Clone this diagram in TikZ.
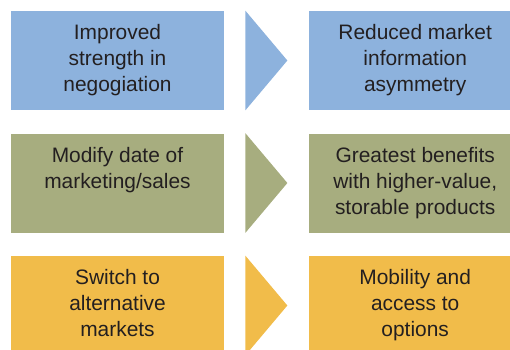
\documentclass[tikz,border=0pt]{standalone}
\usepackage{fontspec}
\setmainfont{Liberation Sans}
\definecolor{rowblue}{RGB}{141, 178, 221}
\definecolor{rowgreen}{RGB}{167, 173, 127}
\definecolor{roworange}{RGB}{241, 188, 74}
\definecolor{inktext}{RGB}{35, 31, 32}
\usetikzlibrary{positioning, calc}

\tikzset{
  effbox/.style={minimum width=4.26cm, minimum height=1.98cm, inner sep=0pt},
  efftext/.style={align=center, inner sep=0pt, text=inktext,
                  font=\fontsize{11.9}{14.8}\selectfont}
}

\begin{document}
\begin{tikzpicture}
    \useasboundingbox (0,0) rectangle (10.2,-6.98);
    \clip (0,0) rectangle (10.2,-6.98);

    % Left column
    \node[effbox, fill=rowblue] (l1) at (2.35,-1.21) {};
    \node[effbox, fill=rowgreen] (l2) at (2.35,-3.66) {};
    \node[effbox, fill=roworange] (l3) at (2.35,-6.11) {};

    % Right column
    \node[effbox, fill=rowblue, right=1.68cm of l1] (r1) {};
    \node[effbox, fill=rowgreen, right=1.68cm of l2] (r2) {};
    \node[effbox, fill=roworange, right=1.68cm of l3] (r3) {};

    % Texts
    \node[efftext, below=0.27cm of l1.north] (tl1) {Improved\\strength in\\negogiation};
    \node[efftext, below=0.27cm of l2.north] (tl2) {Modify date of\\marketing/sales};
    \node[efftext, below=0.27cm of l3.north] (tl3) {Switch to\\alternative\\markets};
    \node[efftext, below=0.27cm of r1.north] (tr1) {Reduced market\\information\\asymmetry};
    \node[efftext, below=0.27cm of r2.north] (tr2) {Greatest benefits\\with higher-value,\\storable products};
    \node[efftext, below=0.27cm of r3.north] (tr3) {Mobility and\\access to\\options};

    % Arrows
    \fill[rowblue] ($(l1.north east)+(0.42,0)$) -- ($(l1.east)+(1.26,0)$)
        -- ($(l1.south east)+(0.42,0)$) -- cycle;
    \fill[rowgreen] ($(l2.north east)+(0.42,0)$) -- ($(l2.east)+(1.26,0)$)
        -- ($(l2.south east)+(0.42,0)$) -- cycle;
    \fill[roworange] ($(l3.north east)+(0.42,0)$) -- ($(l3.east)+(1.26,0)$)
        -- ($(l3.south east)+(0.42,0)$) -- cycle;
\end{tikzpicture}
\end{document}
